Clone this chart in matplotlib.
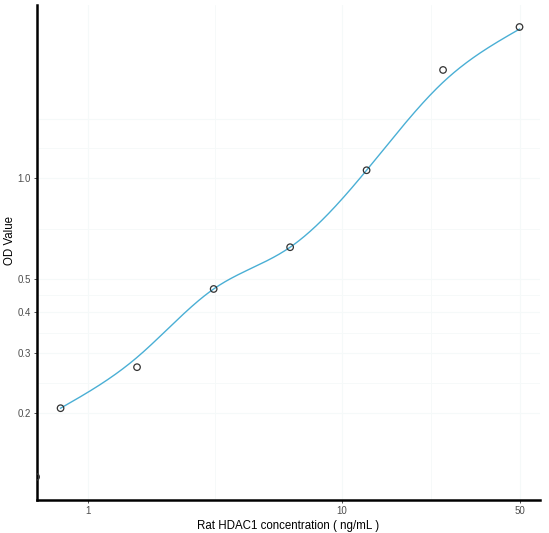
import numpy as np
import matplotlib
matplotlib.use("Agg")
import matplotlib.pyplot as plt

plt.rcParams['font.family'] = ['Liberation Sans', 'DejaVu Sans']

# measured points
conc = [0.625, 0.78, 1.56, 3.125, 6.25, 12.5, 25, 50]
od = [0.1285, 0.206, 0.273, 0.467, 0.622, 1.055, 2.10, 2.82]

# fitted curve values (at each concentration)
fit_x = [0.78, 1.56, 3.125, 6.25, 12.5, 25, 50]
fit_y = [0.206, 0.292, 0.467, 0.622, 1.055, 1.93, 2.78]

xticks = [1, 10, 50]
xticklabels = ["1", "10", "50"]
yticks = [0.2, 0.3, 0.4, 0.5, 1.0]
yticklabels = ["0.2", "0.3", "0.4", "0.5", "1.0"]


def natural_spline(x, y, xs):
    x = np.asarray(x, float); y = np.asarray(y, float)
    n = len(x)
    h = np.diff(x)
    A = np.zeros((n, n)); b = np.zeros(n)
    A[0, 0] = 1; A[-1, -1] = 1
    for i in range(1, n - 1):
        A[i, i - 1] = h[i - 1]
        A[i, i] = 2 * (h[i - 1] + h[i])
        A[i, i + 1] = h[i]
        b[i] = 3 * ((y[i + 1] - y[i]) / h[i] - (y[i] - y[i - 1]) / h[i - 1])
    c = np.linalg.solve(A, b)
    out = np.empty_like(xs)
    for k, xv in enumerate(xs):
        i = min(max(np.searchsorted(x, xv) - 1, 0), n - 2)
        dx = xv - x[i]
        bi = (y[i + 1] - y[i]) / h[i] - h[i] * (2 * c[i] + c[i + 1]) / 3
        di = (c[i + 1] - c[i]) / (3 * h[i])
        out[k] = y[i] + bi * dx + c[i] * dx ** 2 + di * dx ** 3
    return out


lx = np.log10(fit_x); ly = np.log10(fit_y)
xs = np.linspace(lx[0], lx[-1], 400)
ys = natural_spline(lx, ly, xs)

fig = plt.figure(figsize=(5.49, 5.33), dpi=100)
ax = fig.add_axes([37 / 549, 33 / 533, 503 / 549, 495 / 533])
ax.set_xscale('log'); ax.set_yscale('log')
ax.set_xlim(0.63, 60.2)
ax.set_ylim(0.1097, 3.28)

gcol = '#F5F9F9'
for v in [1, 10, 50]:
    ax.axvline(v, color=gcol, lw=0.8, zorder=0)
for v in [3.162, 22.36]:
    ax.axvline(v, color=gcol, lw=0.6, zorder=0)
for v in [0.2, 0.3, 0.4, 0.5, 1.0, 1.5]:
    ax.axhline(v, color=gcol, lw=0.8, zorder=0)
for v in [0.245, 0.346, 0.447, 0.707, 1.225]:
    ax.axhline(v, color=gcol, lw=0.6, zorder=0)

ax.plot(10 ** xs, 10 ** ys, color='#4AAFD5', lw=1.0, zorder=2)
ax.scatter(conc, od, s=22, facecolors='none', edgecolors='#333333', linewidths=0.9,
           zorder=3, clip_on=True)

ax.set_xticks(xticks); ax.set_xticklabels(xticklabels)
ax.set_yticks(yticks); ax.set_yticklabels(yticklabels)
ax.xaxis.set_minor_locator(matplotlib.ticker.NullLocator())
ax.yaxis.set_minor_locator(matplotlib.ticker.NullLocator())
ax.tick_params(axis='both', length=2.5, width=0.6, color='#333333',
               labelsize=7, labelcolor='#4D4D4D', pad=2)

for s in ['top', 'right']:
    ax.spines[s].set_visible(False)
for s in ['left', 'bottom']:
    ax.spines[s].set_linewidth(1.8)
    ax.spines[s].set_color('black')

ax.set_xlabel('Rat HDAC1 concentration ( ng/mL )', fontsize=8.3, labelpad=3)
ax.set_ylabel('OD Value', fontsize=8.3)
ax.yaxis.set_label_coords(-0.041, 0.525)

fig.savefig('out.png', dpi=100)
